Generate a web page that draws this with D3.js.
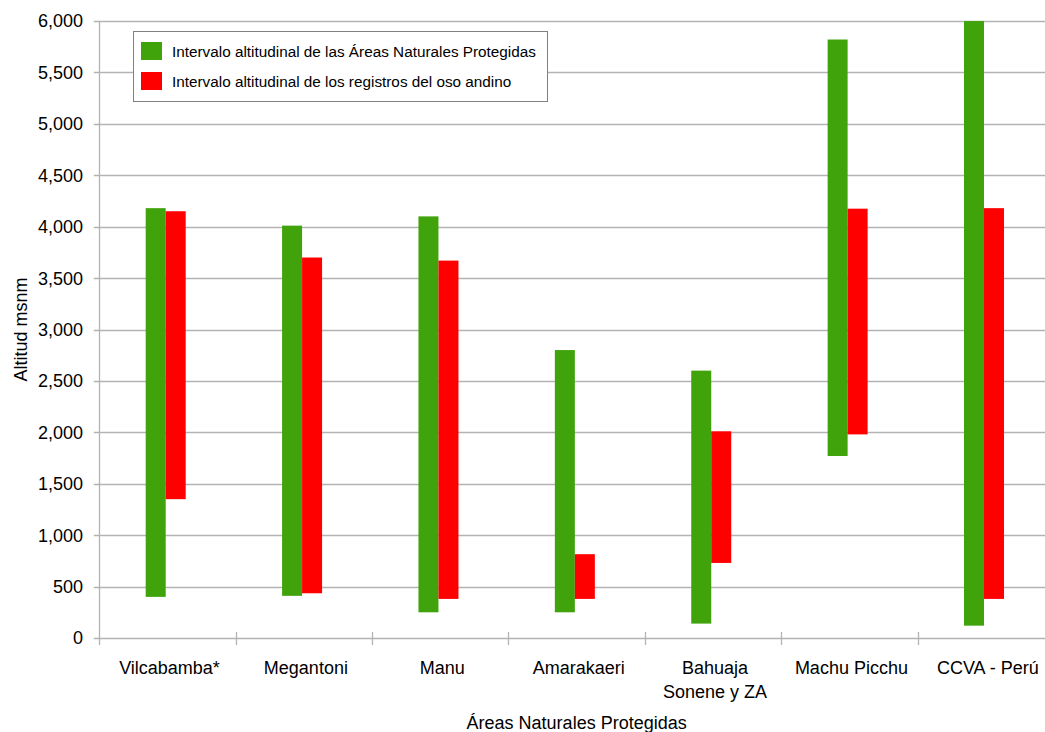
<!DOCTYPE html>
<html>
<head>
<meta charset="utf-8">
<script src="https://cdn.jsdelivr.net/npm/d3@7"></script>
<style>
  html, body { margin: 0; padding: 0; background: #ffffff; overflow: hidden; }
  svg { display: block; font-family: "Liberation Sans", Arial, sans-serif; }
</style>
</head>
<body>
<svg id="chart" width="1045" height="732"></svg>
<script>
// ---- data ----
const categories = ["Vilcabamba*", "Megantoni", "Manu", "Amarakaeri", "Bahuaja\nSonene y ZA", "Machu Picchu", "CCVA - Perú"];
const anpMin = [400, 410, 250, 250, 140, 1770, 120];
const anpMax = [4180, 4010, 4100, 2800, 2600, 5820, 6000];
const osoMin = [1350, 435, 380, 380, 730, 1980, 380];
const osoMax = [4150, 3700, 3670, 815, 2010, 4175, 4180];
const yTicks = [0, 500, 1000, 1500, 2000, 2500, 3000, 3500, 4000, 4500, 5000, 5500, 6000];
const seriesNames = ["Intervalo altitudinal de las Áreas Naturales Protegidas", "Intervalo altitudinal de los registros del oso andino"];
const seriesColors = ["#40a30c", "#ff0000"];
const yTitle = "Altitud msnm";
const xTitle = "Áreas Naturales Protegidas";

(function () {
  // ---- layout ----
  const svg = d3.select("#chart");
  const pLeft = 99.3, pRight = 1054, pTop = 21, pBottom = 638;
  const gridColor = "#b3b3b3";

  const x = d3.scaleBand().domain(categories).range([pLeft, pRight]).padding(0);
  const y = d3.scaleLinear().domain([0, 6000]).range([pBottom, pTop]);
  const barW = 20;
  const pairShift = -1.8;

  // gridlines
  svg.append("g").selectAll("line").data(yTicks).join("line")
    .attr("x1", pLeft - 5.5).attr("x2", 1045)
    .attr("y1", d => Math.round(y(d)) + 0.5).attr("y2", d => Math.round(y(d)) + 0.5)
    .attr("stroke", gridColor).attr("stroke-width", 1.3);

  // y axis line
  svg.append("line")
    .attr("x1", pLeft + 0.2).attr("x2", pLeft + 0.2)
    .attr("y1", pTop).attr("y2", pBottom + 7)
    .attr("stroke", gridColor).attr("stroke-width", 1.3);

  // y tick labels
  const fmt = d3.format(",");
  svg.append("g").selectAll("text").data(yTicks).join("text")
    .attr("x", 83).attr("y", d => y(d))
    .attr("dy", "0.36em")
    .attr("text-anchor", "end")
    .attr("font-size", 18).attr("fill", "#000")
    .text(d => fmt(d));

  // category boundary ticks
  const bounds = categories.map(c => x(c)).slice(1).concat([pRight]);
  svg.append("g").selectAll("line").data(bounds).join("line")
    .attr("x1", d => Math.round(d) + 0.5).attr("x2", d => Math.round(d) + 0.5)
    .attr("y1", pBottom - 6).attr("y2", pBottom + 7)
    .attr("stroke", gridColor).attr("stroke-width", 1.3);

  // bars
  const gBars = svg.append("g");
  categories.forEach((c, i) => {
    const cx = x(c) + x.bandwidth() / 2 + pairShift;
    gBars.append("rect")
      .attr("x", cx - barW).attr("width", barW)
      .attr("y", y(anpMax[i])).attr("height", y(anpMin[i]) - y(anpMax[i]))
      .attr("fill", seriesColors[0]);
    gBars.append("rect")
      .attr("x", cx).attr("width", barW)
      .attr("y", y(osoMax[i])).attr("height", y(osoMin[i]) - y(osoMax[i]))
      .attr("fill", seriesColors[1]);
  });

  // category labels
  const gLab = svg.append("g");
  categories.forEach(c => {
    const cx = x(c) + x.bandwidth() / 2 + 2;
    const t = gLab.append("text")
      .attr("x", cx).attr("y", 674)
      .attr("text-anchor", "middle")
      .attr("font-size", 18).attr("fill", "#000");
    c.split("\n").forEach((line, k) => {
      t.append("tspan").attr("x", cx).attr("dy", k === 0 ? 0 : 24).text(line);
    });
  });

  // axis titles
  svg.append("text")
    .attr("x", (pLeft + pRight) / 2).attr("y", 729)
    .attr("text-anchor", "middle").attr("font-size", 18).attr("fill", "#000")
    .text(xTitle);
  svg.append("text")
    .attr("transform", `translate(26.5,${(pTop + pBottom) / 2}) rotate(-90)`)
    .attr("text-anchor", "middle").attr("font-size", 18).attr("fill", "#000")
    .text(yTitle);

  // legend
  const lg = svg.append("g");
  lg.append("rect")
    .attr("x", 133.5).attr("y", 31.5).attr("width", 414).attr("height", 70)
    .attr("fill", "#fff").attr("stroke", "#808080").attr("stroke-width", 1);
  seriesNames.forEach((name, i) => {
    lg.append("rect")
      .attr("x", 141).attr("y", 42 + i * 30).attr("width", 21).attr("height", 18)
      .attr("fill", seriesColors[i]);
    lg.append("text")
      .attr("x", 172).attr("y", 51 + i * 30).attr("dy", "0.36em")
      .attr("font-size", 15.3).attr("fill", "#000")
      .text(name);
  });
})();
</script>
</body>
</html>
